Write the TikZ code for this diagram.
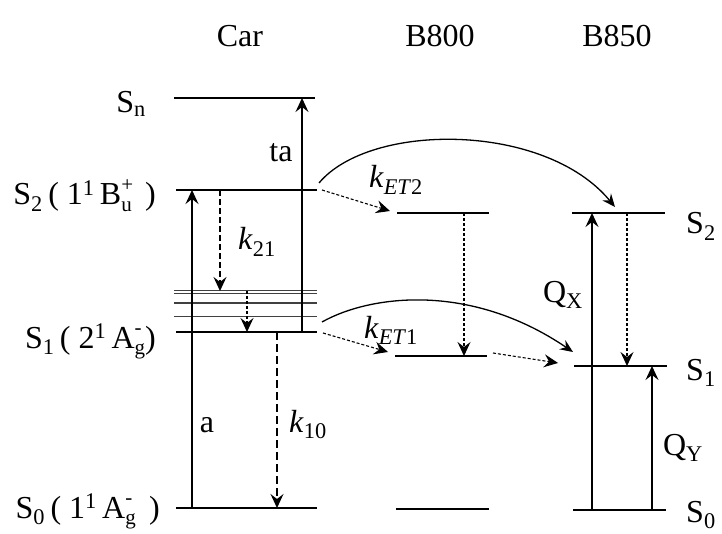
\documentclass[tikz,border=0pt]{standalone}
\usepackage{fontspec}
\setmainfont{Liberation Serif}
\usetikzlibrary{arrows.meta}
\newcommand{\ssub}[1]{\textsubscript{#1}}
\newcommand{\ssup}[1]{\textsuperscript{#1}}
\newcommand{\supsub}[2]{\rlap{\raisebox{0.42em}{\fontsize{21}{21}\selectfont #1}}\raisebox{-0.2em}{\fontsize{21}{21}\selectfont #2}}
\tikzset{
  every node/.style={font=\fontsize{32}{38}\selectfont, inner sep=0pt},
  level/.style={line width=2.8pt},
  vib/.style={line width=1pt, black!75},
  arr/.style={-{Stealth[length=14pt,width=13pt,inset=5pt]}, line width=1.3pt},
  darr/.style={arr, dash pattern=on 6pt off 3pt},
  farr/.style={arr, line width=1.1pt, dash pattern=on 3pt off 2pt},
  curv/.style={-{Stealth[length=13pt,width=11pt,inset=4.5pt]}, line width=1.3pt},
}
\begin{document}
\begin{tikzpicture}[x=1pt,y=-1pt]
\useasboundingbox (0,0) rectangle (722,534);
% titles
\node[anchor=base] (tcar) at (240,47) {Car};
\node[anchor=base] (tb8) at (440,47) {B800};
\node[anchor=base] (tb85) at (617,47) {B850};
% Car levels
\coordinate (SnL) at (174,98);  \coordinate (SnR) at (315,98);
\coordinate (S2L) at (176,190); \coordinate (S2R) at (317,190);
\coordinate (S1L) at (176,332); \coordinate (S1R) at (317,332);
\coordinate (S0L) at (176,508); \coordinate (S0R) at (317,508);
\draw[level] (SnL) -- (SnR);
\draw[level] (S2L) -- (S2R);
\draw[level] (S1L) -- (S1R);
\draw[level] (S0L) -- (S0R);
\foreach \yy in {291,294,303,316}{\draw[vib] (174,\yy) -- (317,\yy);}
% Car labels
\node[anchor=base east] (lSn) at (146,113) {S\ssub{n}};
\node[anchor=base east] (lS2) at (156,205) {S\ssub{2}\,( 1\ssup{1}\,B\supsub{+}{u}\, )};
\node[anchor=base east] (lS1) at (156,348) {S\ssub{1}\,( 2\ssup{1}\,A\supsub{-}{g})};
\node[anchor=base east] (lS0) at (160,518) {S\ssub{0}\,( 1\ssup{1}\,A\supsub{-}{g}\, )};
% Car arrows
\coordinate (aB) at (192,508); \coordinate (aT) at (192,190);
\draw[arr] (aB) -- (aT);
\coordinate (taB) at (302,332); \coordinate (taT) at (302,98);
\draw[arr] (taB) -- (taT);
\coordinate (k21T) at (220,190); \coordinate (k21B) at (220,291);
\draw[darr] (k21T) -- (k21B);
\coordinate (vT) at (247,291); \coordinate (vB) at (247,332);
\draw[farr] (vT) -- (vB);
\coordinate (k10T) at (277,332); \coordinate (k10B) at (277,508);
\draw[darr, dash pattern=on 8pt off 4pt] (k10T) -- (k10B);
\node[anchor=base] (lta) at (281,162) {ta};
\node[anchor=base] (la) at (207,432) {a};
\node[anchor=base] (lk21) at (257,250) {\textit{k}\ssub{21}};
\node[anchor=base] (lk10) at (308,432) {\textit{k}\ssub{10}};
% B800
\coordinate (b2L) at (397,213); \coordinate (b2R) at (489,213);
\coordinate (b1L) at (395,356); \coordinate (b1R) at (487,356);
\coordinate (b0L) at (396,509); \coordinate (b0R) at (489,509);
\draw[level] (b2L) -- (b2R);
\draw[level, line width=2.2pt] (b1L) -- (b1R);
\draw[level] (b0L) -- (b0R);
\coordinate (bdT) at (464,213); \coordinate (bdB) at (464,356);
\draw[farr] (bdT) -- (bdB);
% B850
\coordinate (c2L) at (572,213); \coordinate (c2R) at (665,213);
\coordinate (c1L) at (574,366); \coordinate (c1R) at (667,366);
\coordinate (c0L) at (573,510); \coordinate (c0R) at (666,510);
\draw[level] (c2L) -- (c2R);
\draw[level, line width=2pt] (c1L) -- (c1R);
\draw[level] (c0L) -- (c0R);
\coordinate (qxB) at (592,510); \coordinate (qxT) at (592,213);
\draw[arr] (qxB) -- (qxT);
\coordinate (cdT) at (627,213); \coordinate (cdB) at (627,366);
\draw[farr] (cdT) -- (cdB);
\coordinate (qyB) at (652,510); \coordinate (qyT) at (652,366);
\draw[arr] (qyB) -- (qyT);
\node[anchor=base] (lqx) at (563,302) {Q\ssub{X}};
\node[anchor=base] (lqy) at (683,455) {Q\ssub{Y}};
\node[anchor=base west] (rS2) at (686,234) {S\ssub{2}};
\node[anchor=base west] (rS1) at (686,380) {S\ssub{1}};
\node[anchor=base west] (rS0) at (686,522) {S\ssub{0}};
% energy transfer
\coordinate (e2a) at (322,190); \coordinate (e2b) at (390,211);
\draw[farr] (e2a) -- (e2b);
\coordinate (c2a) at (319,183); \coordinate (c2b) at (615,207);
\draw[curv] (c2a) .. controls (370,122) and (545,122) .. (c2b);
\node[anchor=base] (lket2) at (396,188) {\textit{k}\ssub{\textit{ET}2}};
\coordinate (e1a) at (323,333); \coordinate (e1b) at (388,352);
\draw[farr] (e1a) -- (e1b);
\coordinate (c1a) at (322,322); \coordinate (c1b) at (573,352);
\draw[curv] (c1a) .. controls (370,295) and (470,282) .. (c1b);
\node[anchor=base] (lket1) at (391,338) {\textit{k}\ssub{\textit{ET}1}};
\coordinate (e3a) at (493,353); \coordinate (e3b) at (558,363);
\draw[farr] (e3a) -- (e3b);
\end{tikzpicture}
\end{document}
